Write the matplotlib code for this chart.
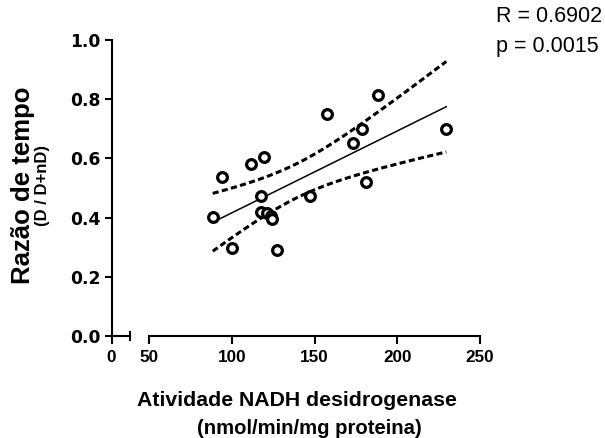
import numpy as np
import matplotlib
matplotlib.use("Agg")
import matplotlib.pyplot as plt
from matplotlib.font_manager import FontProperties

# NADH dehydrogenase activity vs. time ratio (n = 18)
atividade = [88.5, 94.3, 100.4, 111.7, 119.5, 117.5, 117.5, 121.5, 123.5, 124.5,
             127.2, 147.3, 157.4, 173.1, 179.0, 181.0, 188.3, 229.6]
razao = [0.403, 0.536, 0.298, 0.580, 0.606, 0.473, 0.420, 0.415, 0.405, 0.395,
         0.291, 0.473, 0.750, 0.651, 0.699, 0.521, 0.814, 0.699]

y_ticks = [0.0, 0.2, 0.4, 0.6, 0.8, 1.0]
x_ticks = [50, 100, 150, 200, 250]
stats_text = ["R = 0.6902", "p = 0.0015"]

x = np.asarray(atividade)
y = np.asarray(razao)

# linear regression with 95% confidence band of the mean
n = len(x)
slope, intercept = np.polyfit(x, y, 1)
resid = y - (slope * x + intercept)
s = np.sqrt(np.sum(resid ** 2) / (n - 2))
sxx = np.sum((x - x.mean()) ** 2)
t_crit = 2.1199  # t(0.975, df=16)
xf = np.linspace(x.min(), x.max(), 200)
yf = slope * xf + intercept
half = t_crit * s * np.sqrt(1.0 / n + (xf - x.mean()) ** 2 / sxx)

W, H = 605, 438
fig = plt.figure(figsize=(W / 100, H / 100), dpi=100)

def fx(px):
    return px / W

def fy(py):
    return 1 - py / H

bottom = fy(336)
height = fy(40) - fy(336)
ax1 = fig.add_axes([fx(111.5), bottom, fx(130) - fx(111.5), height])
ax2 = fig.add_axes([fx(149), bottom, fx(480) - fx(149), height])

lw_axis = 1.5
bold_lib = dict(family="Liberation Sans", weight="bold")
tick_font_x = FontProperties(family="Liberation Sans", weight="bold", size=12.3)
tick_font_y = FontProperties(family="DejaVu Sans", weight="bold", size=12.3)

# short segment 0..12 holding the y axis
ax1.set_xlim(0, 12)
ax1.set_ylim(0, 1.0)
for sp in ["top", "right"]:
    ax1.spines[sp].set_visible(False)
ax1.spines["left"].set_linewidth(lw_axis)
ax1.spines["bottom"].set_linewidth(lw_axis)
ax1.set_xticks([0])
ax1.set_xticklabels(["0"])
ax1.set_xticks([12], minor=True)
ax1.set_yticks(y_ticks)
ax1.set_yticklabels([f"{v:.1f}" for v in y_ticks])
ax1.tick_params(axis="x", which="major", direction="out", length=5.5, width=lw_axis, pad=4.5)
ax1.tick_params(axis="x", which="minor", direction="inout", length=7, width=lw_axis)
ax1.tick_params(axis="y", direction="out", length=5, width=lw_axis, pad=3)
for lab in ax1.get_xticklabels():
    lab.set_fontproperties(tick_font_x)
for lab in ax1.get_yticklabels():
    lab.set_fontproperties(tick_font_y)
ax1.patch.set_alpha(0)

# main segment 50..250 with the data
ax2.set_xlim(50, 250)
ax2.set_ylim(0, 1.0)
for sp in ["top", "right", "left"]:
    ax2.spines[sp].set_visible(False)
ax2.spines["bottom"].set_linewidth(lw_axis)
ax2.set_yticks([])
ax2.set_xticks(x_ticks)
ax2.set_xticklabels([str(v) for v in x_ticks])
ax2.set_xticks([50], minor=True)
ax2.tick_params(axis="x", which="major", direction="out", length=5.5, width=lw_axis, pad=4.5)
ax2.tick_params(axis="x", which="minor", direction="inout", length=7, width=lw_axis)
for lab in ax2.get_xticklabels():
    lab.set_fontproperties(tick_font_x)
ax2.patch.set_alpha(0)

ax2.plot(xf, yf, color="black", lw=1.1, zorder=2, clip_on=False)
ax2.plot(xf, yf + half, color="black", lw=2.2, ls=(0, (2.0, 1.1)), zorder=2, clip_on=False)
ax2.plot(xf, yf - half, color="black", lw=2.2, ls=(0, (2.0, 1.1)), zorder=2, clip_on=False)
ax2.plot(x, y, ls="none", marker="o", ms=7, mew=2.3, mec="black", mfc="white",
         zorder=3, clip_on=False)

# axis titles
fig.text(fx(23), fy(185), "Razão de tempo", rotation=90, ha="center", va="center",
         size=18.5, **bold_lib)
fig.text(fx(43), fy(186), "(D / D+nD)", rotation=90, ha="center", va="center",
         size=12, **bold_lib)
fig.text(fx(297), fy(400), "Atividade NADH desidrogenase", ha="center", va="center",
         size=15.3, **bold_lib)
fig.text(fx(309.5), fy(428), "(nmol/min/mg proteina)", ha="center", va="center",
         size=14.6, **bold_lib)

# correlation statistics
fig.text(fx(496), fy(22), stats_text[0], ha="left", va="baseline", size=15.5,
         family="Liberation Sans")
fig.text(fx(496), fy(52), stats_text[1], ha="left", va="baseline", size=15.5,
         family="Liberation Sans")

fig.savefig("out.png", dpi=100)
